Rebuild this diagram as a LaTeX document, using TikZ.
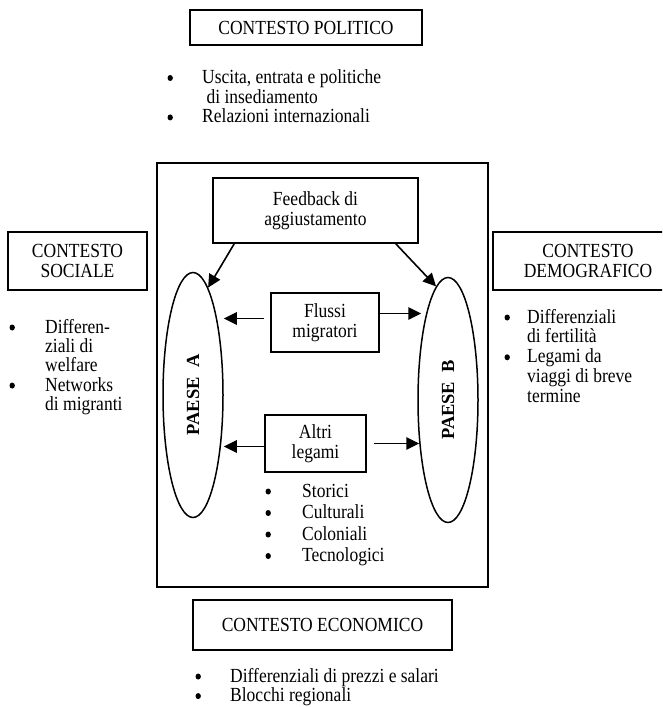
\documentclass[tikz,border=0pt]{standalone}
\usepackage{fontspec}
\setmainfont[FakeStretch=0.875]{Liberation Serif}
\newfontfamily\paesefont{Liberation Serif}
\usetikzlibrary{arrows.meta,positioning,shapes.geometric}

\newcommand{\punto}{\hspace*{-2.7pt}\tikz[baseline=0pt]\fill (0pt,5.5pt) ellipse (2.7pt and 3pt);}

\tikzset{
  scatola/.style={draw, line width=1.6pt, align=center, inner sep=0pt,
    font=\fontsize{20}{20}\selectfont},
  paese/.style={draw, ellipse, line width=1.5pt, minimum width=60pt,
    minimum height=245pt, inner sep=0pt},
  nomepaese/.style={rotate=90, inner sep=0pt, font=\paesefont\bfseries\fontsize{18.5}{20}\selectfont},
  freccia/.style={line width=1.6pt, -{Triangle[length=13pt,width=12.5pt]}},
  lista/.style={inner sep=0pt, anchor=base west, font=\fontsize{20}{19.5}\selectfont},
}

\begin{document}
\begin{tikzpicture}[x=1pt,y=-1pt]
  \useasboundingbox (0,0) rectangle (662,707);
  \clip (0,0) rectangle (662,707);
  % contesti esterni
  \node[scatola, minimum width=232pt, minimum height=35pt] (politico) at (306,27.5) {CONTESTO POLITICO};
  \node[scatola, minimum width=139pt, minimum height=58pt] (sociale) at (77.5,261) {CONTESTO\\SOCIALE};
  \node[scatola, minimum width=190pt, minimum height=58pt] (demografico) at (588,261) {CONTESTO\\DEMOGRAFICO};
  \node[scatola, minimum width=259pt, minimum height=50pt] (economico) at (322.5,625) {CONTESTO ECONOMICO};
  % liste dei contesti
  \node[lista] (lpolitico) at (170,83.5) {\begin{tabular}[t]{@{}p{32pt}@{}l@{}}
    \punto & Uscita, entrata e politiche\\
     & \ di insediamento\\
    \punto & Relazioni internazionali
  \end{tabular}};
  \node[lista, font=\fontsize{20}{18}\selectfont] (lsociale) at (12,333) {\begin{tabular}[t]{@{}p{33pt}@{}l@{}}
    \punto & Differen-\\
     & ziali di\\
     & welfare\\
    \punto & Networks\\
     & di migranti
  \end{tabular}};
  \node[lista, font=\fontsize{20}{19.7}\selectfont] (ldemografico) at (507,323) {\begin{tabular}[t]{@{}p{20pt}@{}l@{}}
    \punto & Differenziali\\
     & di fertilità\\
    \punto & Legami da\\
     & viaggi di breve\\
     & termine
  \end{tabular}};
  \node[lista, font=\fontsize{20}{19}\selectfont] (leconomico) at (198,682) {\begin{tabular}[t]{@{}p{32pt}@{}l@{}}
    \punto & Differenziali di prezzi e salari\\
    \punto & Blocchi regionali
  \end{tabular}};
  % sistema migratorio
  \draw[line width=1.6pt] (157,163) rectangle (488,587);
  \node[scatola, minimum width=205pt, minimum height=65pt] (feedback) at (315.5,210.5) {Feedback di\\aggiustamento};
  \node[scatola, minimum width=108pt, minimum height=59pt] (flussi) at (325,322.5) {Flussi\\migratori};
  \node[scatola, minimum width=101pt, minimum height=57pt] (altri) at (315.5,443.5) {Altri\\legami};
  \node[lista, font=\fontsize{20}{21.5}\selectfont] (laltri) at (268,497) {\begin{tabular}[t]{@{}p{34pt}@{}l@{}}
    \punto & Storici\\
    \punto & Culturali\\
    \punto & Coloniali\\
    \punto & Tecnologici
  \end{tabular}};
  \node[paese] (pA) at (193,395) {};
  \node[paese] (pB) at (448,400) {};
  \node[nomepaese] (nA) at (pA) {PAESE\ \ A};
  \node[nomepaese] (nB) at (pB) {PAESE\ \ B};
  % frecce
  \draw[freccia] ([xshift=22pt]feedback.south west) -- (pA.82);
  \draw[freccia] ([xshift=-23pt]feedback.south east) -- (pB.96);
  \draw[freccia, shorten <=6pt] ([yshift=4pt]flussi.west) -- ([yshift=4pt]flussi.west -| pA.east);
  \draw[freccia] ([yshift=9pt]flussi.east) -- ([yshift=9pt,xshift=4pt]flussi.east -| pB.west);
  \draw[freccia] ([yshift=-3pt]altri.west) -- ([yshift=-3pt]altri.west -| pA.east);
  \draw[freccia, shorten <=7pt] (altri.east) -- ([xshift=2pt]altri.east -| pB.west);
\end{tikzpicture}
\end{document}
